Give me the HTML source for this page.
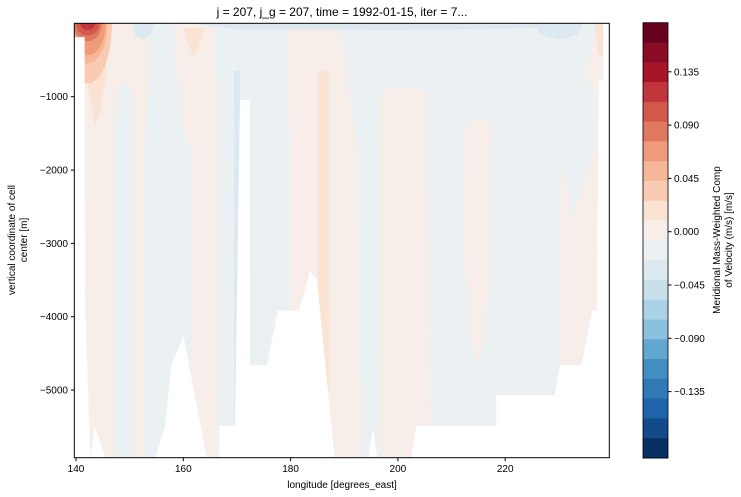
<!DOCTYPE html>
<html><head><meta charset="utf-8"><style>
body{margin:0;background:#fff;}
svg{display:block;font-family:"Liberation Sans",sans-serif;}
</style></head><body>
<svg id="chart" width="741" height="497" viewBox="0 0 741 497" xmlns="http://www.w3.org/2000/svg">
<defs><clipPath id="plotclip"><rect x="74.3" y="23.3" width="535" height="434.4"/></clipPath></defs>
<g id="plot" clip-path="url(#plotclip)"></g>
<g id="axes"></g>
<g id="cbar"></g>
<text x="342" y="16" font-size="12" text-anchor="middle">j = 207, j_g = 207, time = 1992-01-15, iter = 7...</text>
<text x="342" y="488" font-size="10" text-anchor="middle">longitude [degrees_east]</text>
<g transform="translate(15,240) rotate(-90)">
<text x="0" y="0" font-size="10" text-anchor="middle">vertical coordinate of cell</text>
<text x="0" y="12" font-size="10" text-anchor="middle">center [m]</text>
</g>
<g transform="translate(720,240) rotate(-90)">
<text x="0" y="0" font-size="10" text-anchor="middle">Meridional Mass-Weighted Comp</text>
<text x="0" y="12" font-size="10" text-anchor="middle">of Velocity (m/s) [m/s]</text>
</g>
<script>
// ---- data ----
const xTicks = [140, 160, 180, 200, 220];
const yTicks = [-1000, -2000, -3000, -4000, -5000];
const cbarTicks = [0.135, 0.090, 0.045, 0.000, -0.045, -0.090, -0.135];
const cbarTickLabels = ["0.135", "0.090", "0.045", "0.000", "\u22120.045", "\u22120.090", "\u22120.135"];
const bandColors = ["#67001f","#8a0b25","#a81529","#c0363c","#d25849","#e0795f","#f09c7b","#f6b799","#f9cbb3","#fbe3d4","#f7eee9","#ebf0f3","#dce9f1","#c8dfec","#aad3e5","#8bc1dd","#62a7cf","#418fc0","#3079b6","#1f63a8","#134a89","#053061"];
// region values (m/s) and outlines in [lon, depth(m)]
const regionValues = [-0.008, 0.008, -0.008, 0.008, 0.025, 0.008, 0.025, 0.008, 0.008, 0.008, -0.008, 0.025, -0.025, -0.025, -0.025, -0.04, -0.025];
const regionShapes = [
 [[139.6,0],[240,0],[240,6000],[139.6,6000]],
 [[139.6,0],[153.4,0],[153.4,700],[152.9,1700],[152.9,5927],[141.5,5927],[141.5,0]],
 [[147.1,5927],[147.1,1300],[147.8,900],[149.2,810],[150.6,1000],[150.6,5927]],
 [[157.9,0],[165.9,0],[166.1,1700],[166.1,5927],[161.8,5927],[161.8,1700],[160.3,1600]],
 [[159.9,60],[164,60],[163,300],[162,440],[161,300]],
 [[179,0],[189.2,0],[192.6,1836],[192.9,5927],[179.9,5927],[179.9,1600]],
 [[185.1,650],[187.2,650],[187.2,4900],[186.2,5422],[185.1,4900]],
 [[196.7,1000],[198,881],[204,881],[205.6,1000],[206,5927],[196.7,5927]],
 [[212.5,1500],[213.2,1320],[214.9,1290],[216.8,1320],[217.5,1500],[217.5,3200],[215.8,4400],[214.9,4631],[213.8,4400],[212.4,3200]],
 [[237.1,0],[239.4,0],[239.4,5927],[230.4,5927],[230.4,2200],[233,1200],[235.8,400]],
 [[231,1700],[235,700],[236.6,900],[236.6,1700],[232.3,2722]],
 [[236.7,0],[238.3,0],[238.3,431],[237.3,431]],
 [[161,0],[230,0],[230,60],[200,90],[170,80]],
 [[225.2,0],[234.5,0],[233.5,150],[230,226],[226.5,150]],
 [[150.4,0],[154.7,0],[154,150],[152.5,226],[151,150]],
 [[172,0],[224,0],[224,30],[172,30]],
 [[169.45,635],[170.6,635],[170.6,5486],[169.45,5486]]
];
const tailValue = 0.022;
const tailShape = [[141.5,0],[145.6,0],[145.6,700],[144.6,1200],[143.55,1390],[142.5,1000],[141.5,600]];
const hotCenterLon = 142.2;
const hotValues = [0.03, 0.04, 0.05, 0.06, 0.07, 0.08, 0.095, 0.115];
const hotRadLon = [4.5, 4.1, 3.7, 3.35, 3.0, 2.6, 2.2, 1.4];
const hotRadDepth = [820, 680, 545, 435, 340, 245, 165, 90];
const floorShape = [[139.68,186],[141.6,186],[141.66,3636],[142.65,5927],[143.5,5486],[145.5,5927],[154.76,5927],[156.63,5486],[157.74,4658],[160.06,4272],[164.36,5927],[166.69,5927],[166.69,5486],[169.64,5486],[170.57,1045],[172.43,1045],[172.45,4658],[175.6,4658],[177.61,3918],[181.57,3918],[183.62,3377],[184.92,3500],[188.2,5927],[194.5,5927],[195.36,5522],[196.14,5927],[202.44,5927],[203.43,5486],[218.34,5486],[218.34,5068],[229.26,5068],[230.25,4658],[234.22,4658],[236.22,3918],[237.07,3918],[237.48,772],[238.28,772],[238.28,0],[240,0],[240,6000],[139.6,6000],[139.6,186]];

// ---- scales ----
const NS="http://www.w3.org/2000/svg";
const xS = lon => 76 + (lon - 140) * 5.365;
const yS = d => 23.4 + d * 0.07333;
const cbTop = 22.7, cbBot = 458, vMax = 0.1765, vMin = -0.191;
const cbY = v => 231.7 - v * (53.3 / 0.045);
const colorFor = v => { let i = Math.floor((vMax - v) / ((vMax - vMin) / 22)); i = Math.max(0, Math.min(21, i)); return bandColors[i]; };
function mk(tag, attrs, parent){ const e=document.createElementNS(NS,tag); for(const k in attrs) e.setAttribute(k,attrs[k]); parent.appendChild(e); return e; }
const pts = s => s.map(p => xS(p[0]).toFixed(1)+","+yS(p[1]).toFixed(1)).join(" ");

const plot = document.getElementById("plot");
regionShapes.forEach((s, i) => {
  const e = mk("polygon", {points: pts(s), fill: colorFor(regionValues[i])}, plot);
  
  
});
const tail = mk("polygon", {points: pts(tailShape), fill: colorFor(tailValue)}, plot);


hotValues.forEach((v, i) => {
  const e = mk("ellipse", {cx: xS(hotCenterLon), cy: yS(0), rx: hotRadLon[i]*5.365, ry: hotRadDepth[i]*0.07333, fill: colorFor(v)}, plot);
  
  
});
const floor = mk("polygon", {points: pts(floorShape), fill: "#ffffff"}, plot);



// ---- axes ----
const ax = document.getElementById("axes");
const frame = mk("rect", {x: 74.3, y: 23.3, width: 535, height: 434.4, fill: "none", stroke: "#000", "stroke-width": 1}, ax);


xTicks.forEach(t => {
  const x = xS(t);
  const l = mk("line", {x1: x, x2: x, y1: 457.7, y2: 461.2, stroke: "#000"}, ax);
  
  
  const tx = mk("text", {x: x, y: 472, "font-size": 10, "text-anchor": "middle"}, ax);
  tx.textContent = t;
  
  
});
yTicks.forEach(t => {
  const y = yS(-t);
  const l = mk("line", {x1: 70.8, x2: 74.3, y1: y, y2: y, stroke: "#000"}, ax);
  
  
  const tx = mk("text", {x: 68, y: y + 3.5, "font-size": 10, "text-anchor": "end"}, ax);
  tx.textContent = "\u2212" + Math.abs(t);
  
  
});

// ---- colorbar ----
const cb = document.getElementById("cbar");
const bh = (cbBot - cbTop) / bandColors.length;
bandColors.forEach((c, i) => {
  const r = mk("rect", {x: 643, y: cbTop + i*bh, width: 25, height: bh + 0.5, fill: c}, cb);
  
  
});
const cbf = mk("rect", {x: 643, y: cbTop, width: 25, height: cbBot - cbTop, fill: "none", stroke: "#000", "stroke-width": 0.8}, cb);


cbarTicks.forEach((v, i) => {
  const y = cbY(v);
  const l = mk("line", {x1: 668, x2: 671.5, y1: y, y2: y, stroke: "#000"}, cb);
  
  
  const tx = mk("text", {x: 674, y: y + 3.5, "font-size": 10}, cb);
  tx.textContent = cbarTickLabels[i];
  
  
});
</script>
</svg>
</body></html>
